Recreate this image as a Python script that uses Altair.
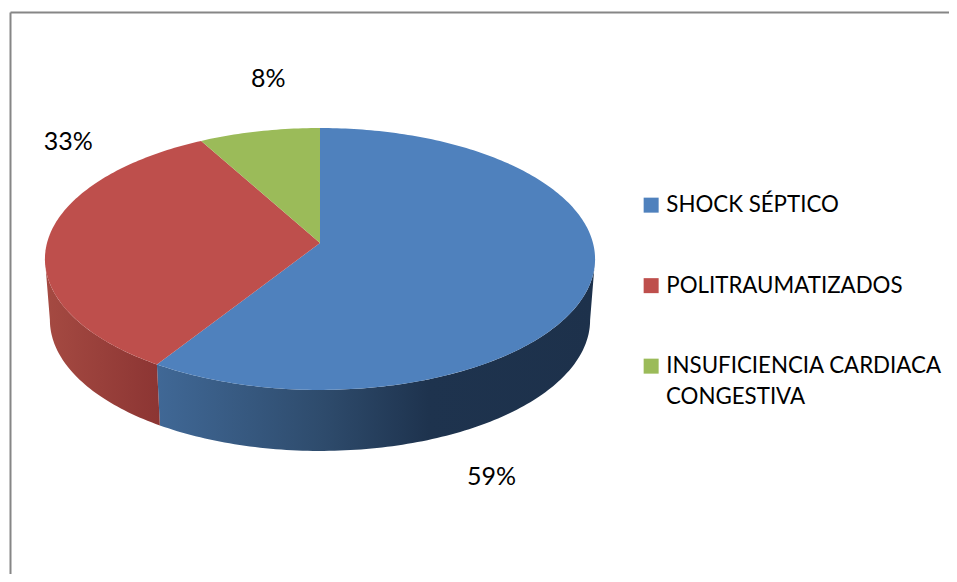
import math
import altair as alt
import pandas as pd

categories = ["SHOCK SÉPTICO", "POLITRAUMATIZADOS", "INSUFICIENCIA CARDIACA CONGESTIVA"]
values = [59, 33, 8]
labels = ["59%", "33%", "8%"]
colors = ["#4F81BD", "#BE4F4C", "#9BBB59"]

FONT = "Lato"
CX, CY, RX, RY, K = 320, 243, 273, 129, 0.122
DEPTH, NARROW = 61, 0.982
X0, Y0, W, H = 10, 12, 939, 562


def rim(deg):
    t = math.radians(deg)
    u, v = math.sin(t), -math.cos(t)
    d = 1 - K * v
    return CX + RX * u / d, CY + RY * v / d


spans = []
acc = 0
for val in values:
    spans.append((acc * 3.6, (acc + val) * 3.6))
    acc += val

rows = []
for cat, (a, b) in zip(categories, spans):
    n = max(2, int(b - a))
    rows.append({"cat": cat, "i": 0, "x": CX, "y": CY})
    for j in range(n + 1):
        px, py = rim(a + (b - a) * j / n)
        rows.append({"cat": cat, "i": j + 1, "x": px, "y": py})
top_df = pd.DataFrame(rows)


def wall(a, b):
    n = max(2, int(b - a))
    pts = [rim(a + (b - a) * j / n) for j in range(n + 1)]
    out = [{"i": j, "x": p[0], "y": p[1]} for j, p in enumerate(pts)]
    for j, p in enumerate(reversed(pts)):
        out.append({"i": len(pts) + j,
                    "x": CX + (p[0] - CX) * NARROW,
                    "y": p[1] + DEPTH})
    return pd.DataFrame(out)


xs = alt.X("x:Q", scale=alt.Scale(domain=[X0, X0 + W]),
           axis=alt.Axis(orient="top", domainColor="#868686", domainWidth=2,
                         ticks=False, labels=False, grid=False, title=None))
ys = alt.Y("y:Q", scale=alt.Scale(domain=[Y0 + H, Y0]),
           axis=alt.Axis(orient="left", domainColor="#868686", domainWidth=2,
                         ticks=False, labels=False, grid=False, title=None))


def grad(stops):
    return alt.Gradient(gradient="linear", x1=0, x2=1, y1=0, y2=0,
                        stops=[alt.GradientStop(offset=o, color=c) for o, c in stops])


blue_wall = alt.Chart(wall(97, spans[0][1])).mark_line(
    fill=grad([(0, "#406896"), (0.38, "#2E4B6C"), (0.62, "#1E334E"), (1, "#1D314B")]),
    strokeWidth=0, stroke="transparent"
).encode(x=xs, y=ys, order="i:Q")
red_wall = alt.Chart(wall(spans[0][1], 263)).mark_line(
    fill=grad([(0, "#A54A42"), (1, "#8C3533")]),
    strokeWidth=0, stroke="transparent"
).encode(x=xs, y=ys, order="i:Q")

top = alt.Chart(top_df).mark_line(strokeWidth=0, stroke="transparent").encode(
    x=xs, y=ys, order="i:Q",
    fill=alt.Fill("cat:N",
                  scale=alt.Scale(domain=categories, range=colors),
                  sort=categories,
                  legend=alt.Legend(
                      orient="none", legendX=630, legendY=182, title=None,
                      symbolType="square", symbolSize=225, symbolStrokeWidth=0,
                      labelFont=FONT, labelFontSize=22.3, labelColor="#000000",
                      labelLimit=0, rowPadding=57.5,
                      labelExpr="replace(datum.label, ' CONGESTIVA', '')")),
)

second_line = alt.Chart(pd.DataFrame({"x": [666], "y": [397], "t": ["CONGESTIVA"]})).mark_text(
    font=FONT, fontSize=22.3, color="#000000", align="left"
).encode(x=xs, y=ys, text="t:N")

offsets = [(-100, 197), (20, -97), (9, -52)]
text_layers = []
for lab, (a, b), (dx, dy) in zip(labels, spans, offsets):
    px, py = rim((a + b) / 2)
    text_layers.append(
        alt.Chart(pd.DataFrame({"x": [px], "y": [py], "t": [lab]}))
        .mark_text(font=FONT, fontSize=25, color="#000000", dx=dx, dy=dy)
        .encode(x=xs, y=ys, text="t:N"))

chart = alt.layer(blue_wall, red_wall, top, second_line, *text_layers).properties(
    width=W, height=H,
    autosize=alt.AutoSizeParams(type="none"),
    padding={"left": 2, "top": 4, "right": 0, "bottom": 0},
    background="#FFFFFF",
).configure_view(stroke=None)

chart.save("out.html", embed_options={"renderer": "svg", "actions": False})
